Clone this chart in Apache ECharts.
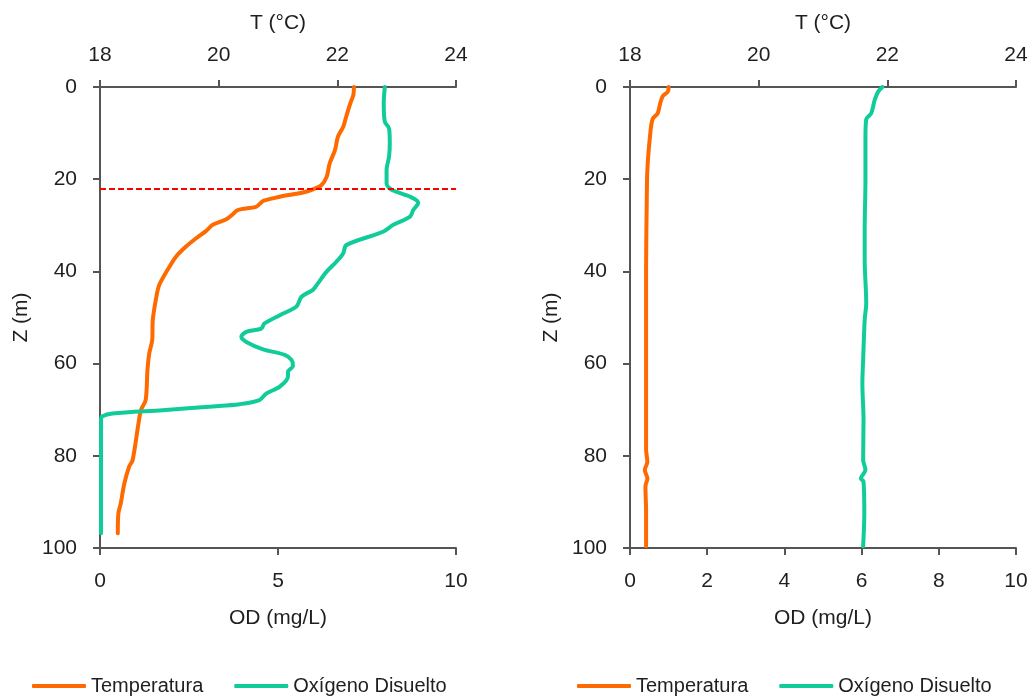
<!DOCTYPE html>
<html>
<head>
<meta charset="utf-8">
<script src="https://cdn.jsdelivr.net/npm/echarts@6/dist/echarts.min.js"></script>
<style>
  html, body { margin: 0; padding: 0; background: #fff; }
  #chart { width: 1032px; height: 700px; }
</style>
</head>
<body>
<div id="chart"></div>
<script>
// Perfil A (estratificado): temperatura
const depthTempA = [0, 1.7, 3.5, 6.4, 8.6, 10.8, 13.7, 16.6, 19.5, 21.3, 22.2, 22.9, 23.8, 24.7, 25.4, 26.0, 26.7, 27.6, 28.7, 29.9, 31.2, 32.8, 34.6, 36.8, 39.0, 42.9, 45.5, 50.5, 54.9, 57.8, 61.4, 67.9, 70.1, 73.7, 80.9, 82.4, 86.0, 90.3, 92.5, 96.8];
const tempA = [22.28, 22.27, 22.22, 22.15, 22.10, 22.01, 21.96, 21.87, 21.82, 21.73, 21.59, 21.42, 21.03, 20.75, 20.69, 20.63, 20.32, 20.24, 20.13, 19.90, 19.79, 19.62, 19.45, 19.28, 19.17, 19.00, 18.95, 18.89, 18.88, 18.83, 18.80, 18.77, 18.69, 18.64, 18.55, 18.49, 18.41, 18.35, 18.31, 18.30];

// Perfil A: oxígeno disuelto
const depthOdA = [0, 3.5, 7.5, 9.0, 12.2, 15.1, 18.0, 20.9, 22.3, 23.8, 25.1, 26.7, 28.1, 29.9, 31.4, 34.3, 36.1, 37.9, 40.1, 42.6, 44.0, 45.5, 47.6, 49.5, 51.3, 52.4, 53.1, 54.2, 55.3, 56.9, 58.1, 59.2, 60.5, 61.8, 62.8, 65.0, 66.5, 67.9, 68.8, 69.3, 70.1, 70.8, 71.4, 72.2, 80, 90, 96.8];
const odA = [8.00, 7.97, 8.00, 8.12, 8.14, 8.12, 8.05, 8.05, 8.19, 8.71, 8.94, 8.80, 8.71, 8.24, 7.95, 6.92, 6.83, 6.64, 6.36, 6.12, 5.98, 5.66, 5.52, 5.05, 4.62, 4.53, 4.11, 3.97, 4.11, 4.58, 5.19, 5.38, 5.42, 5.28, 5.28, 5.05, 4.67, 4.48, 3.92, 3.17, 1.76, 0.35, 0.07, 0.03, 0.03, 0.03, 0.03];

// Profundidad de la termoclina en el perfil A
const thermoclineDepth = 22;

// Perfil B (mezclado): temperatura
const depthTempB = [0, 1, 2, 3.5, 5.7, 7, 10.8, 18, 25.2, 39.7, 44.7, 78.7, 81.3, 83.1, 84.9, 86.7, 92, 99.6];
const tempB = [18.60, 18.59, 18.51, 18.47, 18.43, 18.35, 18.31, 18.27, 18.26, 18.25, 18.25, 18.25, 18.27, 18.23, 18.27, 18.24, 18.25, 18.25];

// Perfil B: oxígeno disuelto
const depthOdB = [0, 1, 2.8, 5.7, 7, 10.8, 20, 31, 37.5, 46.9, 50.5, 59.2, 64.3, 72.2, 80.9, 83.1, 84.9, 85.6, 92.5, 99.6];
const odB = [6.54, 6.43, 6.34, 6.25, 6.12, 6.10, 6.10, 6.08, 6.08, 6.12, 6.08, 6.04, 6.02, 6.05, 6.04, 6.10, 5.98, 6.05, 6.07, 6.04];

// Etiquetas
const tempName = 'Temperatura';
const odName = 'Oxígeno Disuelto';
const tempAxisName = 'T (°C)';
const odAxisName = 'OD (mg/L)';
const depthAxisName = 'Z (m)';

const pairs = (xs, zs) => xs.map((v, i) => [v, zs[i]]);

const FONT = 'Liberation Sans';
const TEXT = '#1f1f1f';
const AXIS = '#555555';
const ORANGE = '#FF6A00';
const TEAL = '#11CC99';

function tempAxis(grid) {
  return {
    type: 'value', gridIndex: grid, position: 'top',
    min: 18, max: 24, interval: 2,
    name: tempAxisName, nameLocation: 'middle', nameGap: 53,
    nameTextStyle: { fontFamily: FONT, fontSize: 21, color: TEXT },
    axisLine: { show: true, onZero: false, lineStyle: { color: AXIS, width: 2 } },
    axisTick: { show: true, length: 7, lineStyle: { color: AXIS, width: 2 } },
    axisLabel: { margin: 21, fontFamily: FONT, fontSize: 21, color: TEXT },
    splitLine: { show: false }
  };
}
function odAxis(grid, interval) {
  return {
    type: 'value', gridIndex: grid, position: 'bottom',
    min: 0, max: 10, interval: interval,
    name: odAxisName, nameLocation: 'middle', nameGap: 60,
    nameTextStyle: { fontFamily: FONT, fontSize: 21, color: TEXT },
    axisLine: { show: true, onZero: false, lineStyle: { color: AXIS, width: 2 } },
    axisTick: { show: true, length: 7, lineStyle: { color: AXIS, width: 2 } },
    axisLabel: { margin: 23, fontFamily: FONT, fontSize: 21, color: TEXT },
    splitLine: { show: false }
  };
}
function depthAxis(grid) {
  return {
    type: 'value', gridIndex: grid, inverse: true,
    min: 0, max: 100, interval: 20,
    name: depthAxisName, nameLocation: 'middle', nameGap: 68, nameRotate: 90,
    nameTextStyle: { fontFamily: FONT, fontSize: 21, color: TEXT },
    axisLine: { show: true, onZero: false, lineStyle: { color: AXIS, width: 2 } },
    axisTick: { show: true, length: 7, lineStyle: { color: AXIS, width: 2 } },
    axisLabel: { margin: 23, fontFamily: FONT, fontSize: 21, color: TEXT },
    splitLine: { show: false }
  };
}
function legendAt(left) {
  return {
    left: left, top: 676, padding: 0,
    icon: 'roundRect', itemWidth: 54, itemHeight: 4, itemGap: 31,
    textStyle: { fontFamily: FONT, fontSize: 20, color: TEXT },
    data: [tempName, odName]
  };
}
function profile(name, color, data, xAxisIndex, yAxisIndex, extra) {
  return Object.assign({
    name: name, type: 'line', data: data,
    xAxisIndex: xAxisIndex, yAxisIndex: yAxisIndex,
    showSymbol: false, symbol: 'none', smooth: 0.3,
    lineStyle: { color: color, width: 4, cap: 'round', join: 'round' },
    itemStyle: { color: color },
    animation: false, z: 3
  }, extra || {});
}

const chart = echarts.init(document.getElementById('chart'), null, { renderer: 'canvas' });
chart.setOption({
  backgroundColor: '#ffffff',
  animation: false,
  grid: [
    { left: 100, top: 87, width: 356, height: 461 },
    { left: 630, top: 87, width: 386, height: 461 }
  ],
  xAxis: [tempAxis(0), odAxis(0, 5), tempAxis(1), odAxis(1, 2)],
  yAxis: [depthAxis(0), depthAxis(1)],
  legend: [legendAt(32), legendAt(577)],
  series: [
    profile(tempName, ORANGE, pairs(tempA, depthTempA), 0, 0),
    profile(odName, TEAL, pairs(odA, depthOdA), 1, 0, {
      markLine: {
        silent: true, symbol: 'none', label: { show: false },
        lineStyle: { color: '#FF0000', width: 2, type: [6, 3] },
        data: [{ yAxis: thermoclineDepth }]
      }
    }),
    profile(tempName, ORANGE, pairs(tempB, depthTempB), 2, 1),
    profile(odName, TEAL, pairs(odB, depthOdB), 3, 1)
  ]
});
</script>
</body>
</html>
